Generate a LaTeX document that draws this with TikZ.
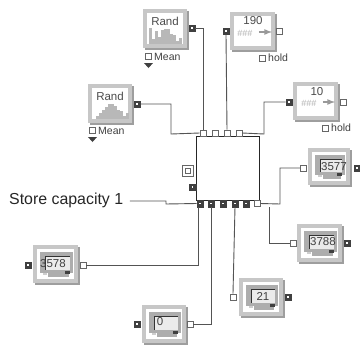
\documentclass[tikz,border=0pt]{standalone}
\usepackage{fontspec}
\setmainfont{Liberation Sans}
\definecolor{frameg}{gray}{0.78}
\definecolor{shad}{gray}{0.62}
\definecolor{wire}{gray}{0.33}
\definecolor{darkp}{gray}{0.25}
\definecolor{barg}{gray}{0.72}
\definecolor{scr}{gray}{0.68}
\tikzset{
  x=1pt,y=-1pt,
  wireline/.style={draw=wire,line width=0.9pt},
  openport/.style={draw=darkp!80,fill=white,line width=0.8pt,minimum size=6pt,inner sep=0pt,rectangle},
  fullport/.style={draw=darkp,fill=darkp,minimum size=6.5pt,inner sep=0pt,rectangle,path picture={\fill[white] (path picture bounding box.center) ++(-0.9pt,0.9pt) rectangle ++(1.8pt,-1.8pt);}},
  lab/.style={inner sep=0pt,font=\fontsize{10.5}{10.5}\selectfont,text=black!75},
  holdlab/.style={inner sep=0pt,font=\fontsize{10.5}{10.5}\selectfont,text=black!75},
  randlab/.style={inner sep=0pt,font=\fontsize{11.5}{11.5}\selectfont,text=black!70},
  numlab/.style={inner sep=0pt,font=\fontsize{11.5}{11.5}\selectfont,text=black!75},
  hashlab/.style={inner sep=0pt,font=\fontsize{9}{9}\selectfont,text=black!30},
  bigbox/.style={draw=black!85,fill=white,line width=1pt,minimum width=63pt,minimum height=64pt,inner sep=0pt,rectangle},
}
\newcommand{\iconframe}[4]{%
  \fill[shad] (#1+2,#2+2) rectangle (#3+2,#4+2);
  \fill[frameg] (#1,#2) rectangle (#3,#4);
  \fill[white] (#1+4,#2+4) rectangle (#3-4,#4-4);
}
\newcommand{\monitor}[4]{%
  \iconframe{#1}{#2}{#3}{#4}
  \fill[scr] (#1+7,#2+7) rectangle (#3-5,#4-10);
  \fill[white!92!black] (#1+12,#2+11) rectangle (#3-8,#4-13);
  \draw[black!80,line width=0.8pt] (#1+12,#4-13) -- (#1+12,#2+11) -- (#3-8,#2+11);
  \fill[scr] (#1+15,#4-10) rectangle (#3-9,#4-6);
  \fill[scr!60] (#1+10,#4-10) rectangle (#1+14,#4-8);
  \fill[darkp] (#3-13,#4-12) rectangle (#3-8,#4-9);
}
\begin{document}
\begin{tikzpicture}
\useasboundingbox (0,0) rectangle (360,346);
\fill[white] (0,0) rectangle (360,346);

\node[bigbox] (core) at (228.5,168) {};

\node[openport] (t1) at (203,133) {};
\node[openport] (t2) at (215,133) {};
\node[openport] (t3) at (227,133) {};
\node[openport] (t4) at (239,133) {};
\node[fullport] (b1) at (200,203.5) {};
\node[fullport] (b2) at (211,203.5) {};
\node[fullport] (b3) at (223,203.5) {};
\node[fullport] (b4) at (235,203.5) {};
\node[fullport] (b5) at (246,203.5) {};
\node[openport] (b6) at (257,203.5) {};
\node[draw=black!60,fill=white,line width=1pt,minimum size=11pt,inner sep=0pt] (leftA) at (188,171) {};
\node[draw=black!60,fill=white,line width=0.8pt,minimum size=5.5pt,inner sep=0pt] (leftAi) at (188,171) {};
\node[fullport] (leftB) at (192.5,187) {};

% Rand 1
\iconframe{143}{9}{187}{48}
\node[randlab] (r1t) at (165,21) {Rand};
\foreach \x/\h in {149/16,152/5,155/13,158/7,161/14,164/15,167/15,170/10,173/9,176/3,179/6}
  \fill[barg] (\x,\h*-1+44) rectangle (\x+2.6,44);
\node[fullport] (r1) at (192,28) {};
\node[openport] (r1m) at (148.5,56.5) {};
\node[lab,anchor=west] (r1l) at (154,56.5) {Mean};
\fill[darkp] (144,63) -- (153,63) -- (148.5,68) -- cycle;

% Rand 2
\iconframe{88}{84}{132}{123}
\node[randlab] (r2t) at (110,96) {Rand};
\foreach \x/\h in {96/3,99/6,102/9,105/12,108/15,111/15,114/13,117/9,120/8,123/3,126/6}
  \fill[barg] (\x,\h*-1+119) rectangle (\x+2.6,119);
\node[fullport] (r2) at (137,104) {};
\node[openport] (r2m) at (92.5,130.5) {};
\node[lab,anchor=west] (r2l) at (98,130.5) {Mean};
\fill[darkp] (88,137) -- (97,137) -- (92.5,142) -- cycle;

% 190 source
\iconframe{230}{12}{275}{50}
\node[randlab] (s1t) at (253,21) {190};
\node[hashlab] (s1n) at (245,33) {\#\#\#};
\draw[black!40,line width=1.6pt,-latex] (259,32) -- (272,32);
\node[fullport] (s1) at (226,31) {};
\node[openport] (s1o) at (279,31) {};
\node[openport] (s1h) at (262,58) {};
\node[holdlab,anchor=west] (s1l) at (268,58) {hold};

% 10 source
\iconframe{293}{82}{338}{120}
\node[randlab] (s2t) at (317,92) {10};
\node[hashlab] (s2n) at (309,103) {\#\#\#};
\draw[black!40,line width=1.6pt,-latex] (323,102) -- (335,102);
\node[fullport] (s2) at (289,102) {};
\node[openport] (s2o) at (343,102) {};
\node[openport] (s2h) at (325,128) {};
\node[holdlab,anchor=west] (s2l) at (331,128) {hold};

% displays
\monitor{308}{148}{350}{185}
\node[numlab] (m1) at (334,167) {3577};
\node[openport] (d1) at (303.5,168) {};
\node[fullport] (d1o) at (357,168) {};

\monitor{297}{224}{342}{262}
\node[numlab] (m2) at (323,242) {3788};
\node[openport] (d2) at (293,243) {};
\node[fullport] (d2o) at (347,243) {};

\monitor{33}{245}{78}{283}
\node[numlab] (m3) at (53,263.5) {3578};
\node[openport] (d3) at (83,265) {};
\node[fullport] (d3o) at (28,265) {};

\monitor{142}{305}{186}{343}
\node[numlab] (m4) at (160,322) {0};
\node[openport] (d4) at (190,324) {};
\node[fullport] (d4o) at (137,324) {};

\monitor{239}{278}{283}{316}
\node[numlab] (m5) at (263,296) {21};
\node[openport] (d5) at (233,297) {};
\node[fullport] (d5o) at (288,297) {};

% wires
\draw[wireline] (r1.east) -| (t1.north);
\draw[wireline] (r2.east) -| (171,134) -- (t1.west);
\draw[wireline] (s1.south) -- (t3.north);
\draw[wireline] (s2.west) -| (264,134) -- (t4.east);
\draw[wireline] (d1.west) -| (280,204) -- (b6.east);
\draw[wireline] (d2.west) -| (269,206.5);
\draw[wireline] (d3.east) -| (198,207);
\draw[wireline] (d4.east) -| (b2.south);
\draw[wireline] (d5.north) -- (b4.south);

\node[inner sep=0pt,anchor=west,font=\fontsize{15.9}{15.9}\selectfont,text=black!85] (store) at (9,200) {Store capacity 1};
\coordinate (st1) at (130,201);
\coordinate (st2) at (166,201);
\coordinate (st3) at (166,204);
\draw[wireline] (st1) -- (st2) -- (st3) -- (b1.west);
\end{tikzpicture}
\end{document}
